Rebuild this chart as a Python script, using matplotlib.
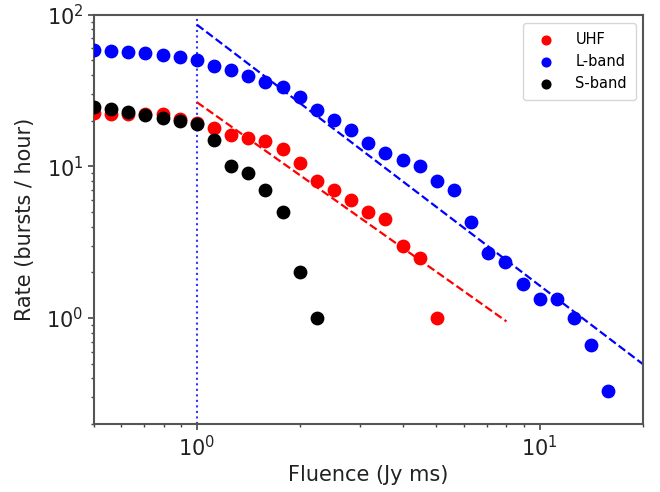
import matplotlib

matplotlib.use("Agg")
import matplotlib.pyplot as plt

# fluence bins (Jy ms)
FLUENCE = [0.501, 0.562, 0.631, 0.708, 0.794, 0.891, 1.0, 1.122, 1.259, 1.413,
           1.585, 1.778, 1.995, 2.239, 2.512, 2.818, 3.162, 3.548, 3.981, 4.467,
           5.012, 5.623, 6.310, 7.079, 7.943, 8.913, 10.0, 11.22, 12.59, 14.13,
           15.85]

UHF_RATE = [22.6, 22.2, 22.3, 22.0, 22.0, 20.4, 19.2, 18.0, 16.0, 15.5,
            14.6, 13.1, 10.5, 8.0, 7.0, 6.0, 5.0, 4.5, 3.0, 2.5, 1.0]
LBAND_RATE = [58.3, 57.3, 57.0, 56.0, 54.0, 52.3, 50.0, 45.7, 43.3, 39.7,
              36.3, 33.3, 28.7, 23.7, 20.3, 17.3, 14.3, 12.3, 11.0, 10.0,
              8.0, 7.0, 4.33, 2.67, 2.33, 1.67, 1.33, 1.33, 1.0, 0.667, 0.333]
SBAND_RATE = [24.7, 24.0, 22.8, 21.8, 21.0, 20.0, 19.0, 15.0, 10.0, 9.0,
              7.0, 5.0, 2.0, 1.0]

# power-law fits drawn as dashed lines
LBAND_FIT = dict(x=[1.0, 20.0], amp=86.0, index=-1.72)
UHF_FIT = dict(x=[1.0, 8.0], amp=26.5, index=-1.6)

FLUENCE_CUT = 1.0


def powerlaw(fit):
    return [fit["amp"] * xx ** fit["index"] for xx in fit["x"]]


fig = plt.figure(figsize=(6.6, 4.92), dpi=100)
ax = fig.add_axes([0.142, 0.138, 0.832, 0.832])

ax.axvline(FLUENCE_CUT, color="blue", ls=":", lw=1.5, alpha=0.8)
ax.plot(LBAND_FIT["x"], powerlaw(LBAND_FIT), color="blue", ls="--", lw=1.6)
ax.plot(UHF_FIT["x"], powerlaw(UHF_FIT), color="red", ls="--", lw=1.6)

ax.scatter(FLUENCE[:len(UHF_RATE)], UHF_RATE, s=80, color="red",
           label="UHF", zorder=3)
ax.scatter(FLUENCE[:len(LBAND_RATE)], LBAND_RATE, s=80, color="blue",
           label="L-band", zorder=3)
ax.scatter(FLUENCE[:len(SBAND_RATE)], SBAND_RATE, s=80, color="black",
           label="S-band", zorder=3)

ax.set_xscale("log")
ax.set_yscale("log")
ax.set_xlim(0.5, 20)
ax.set_ylim(0.2, 100)

ax.set_xlabel("Fluence (Jy ms)", fontsize=15, color="#222222")
ax.set_ylabel("Rate (bursts / hour)", fontsize=15, color="#222222", labelpad=8)
ax.tick_params(which="major", labelsize=15, length=4, width=1.2,
               colors="#444444", labelcolor="#222222")
ax.tick_params(which="minor", length=2.5, width=1.0, colors="#444444")
for sp in ax.spines.values():
    sp.set_color("#555555")
    sp.set_linewidth(1.5)

ax.legend(loc="upper right", fontsize=10.5, markerscale=0.7,
          borderpad=0.6, handletextpad=1.0, labelspacing=0.5,
          borderaxespad=0, bbox_to_anchor=(0.987, 0.98))

fig.savefig("out.png", dpi=100)
